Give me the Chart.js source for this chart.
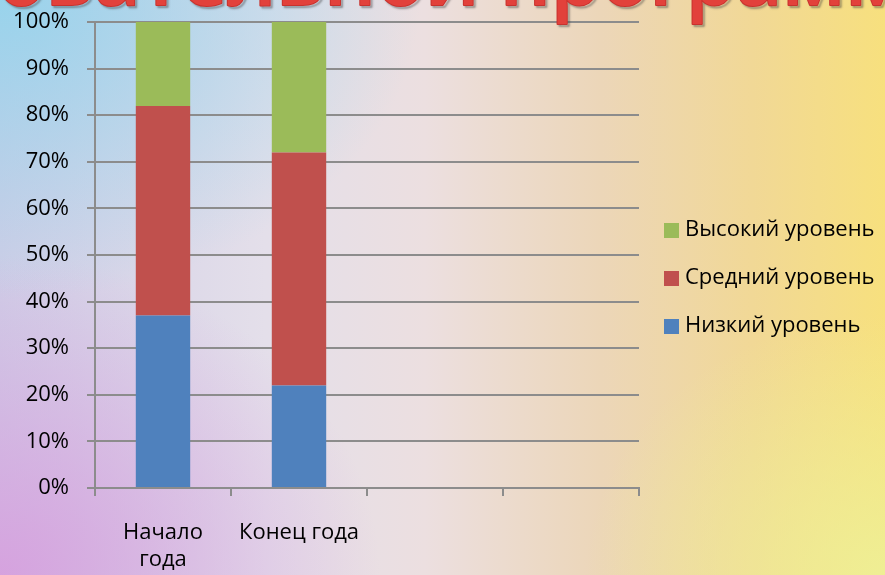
<!DOCTYPE html>
<html><head><meta charset="utf-8">
<script src="https://cdn.jsdelivr.net/npm/chart.js@4.4.0/dist/chart.umd.min.js"></script>
<style>
html,body{margin:0;padding:0;}
#wrap{width:885px;height:575px;position:relative;overflow:hidden;
background:
 radial-gradient(ellipse 420px 300px at 0% 0%, rgba(150,212,236,0.95) 0%, rgba(150,212,236,0) 100%),
 radial-gradient(ellipse 380px 320px at 0% 100%, rgba(214,160,222,0.95) 0%, rgba(214,160,222,0) 100%),
 radial-gradient(ellipse 300px 260px at 100% 100%, rgba(238,240,150,0.9) 0%, rgba(238,240,150,0) 100%),
 linear-gradient(90deg, #cfcde6 0%, #e4dfea 30%, #ecdfe0 48%, #ecd6b8 68%, #f1d896 85%, #f7e07e 100%);}
canvas{display:block}
</style></head><body><div id="wrap"><canvas id="c" width="885" height="575"></canvas></div>
<script>
const categories = [['Начало', 'года'], 'Конец года', '', ''];
const seriesNames = ['Низкий уровень', 'Средний уровень', 'Высокий уровень'];
const lowLevel = [37, 22];
const midLevel = [45, 50];
const highLevel = [18, 28];
const yTickStep = 10;
const titleText = 'образовательной программы';

const FONT = "'Open Sans', 'Noto Sans', sans-serif";
const GRID = '#8c8c8c';

const titlePlugin = {
  id: 'titleArt',
  afterDraw(chart) {
    const ctx = chart.ctx;
    ctx.save();
    ctx.font = '600 80px ' + FONT;
    const lead = ctx.measureText('образовательной ').width;
    const x0 = 500 - lead;
    ctx.textBaseline = 'alphabetic';
    ctx.textAlign = 'left';
    ctx.shadowColor = 'rgba(60,60,60,0.5)';
    ctx.shadowOffsetX = 2; ctx.shadowOffsetY = 2; ctx.shadowBlur = 2;
    ctx.lineJoin = 'round';
    ctx.strokeStyle = '#c8322e'; ctx.lineWidth = 2;
    ctx.strokeText(titleText, x0, 5);
    ctx.shadowColor = 'transparent';
    ctx.fillStyle = '#e2413b';
    ctx.fillText(titleText, x0, 5);
    ctx.restore();
  }
};

const legendPlugin = {
  id: 'sideLegend',
  afterDraw(chart) {
    const ctx = chart.ctx;
    const ds = chart.data.datasets;
    const x = chart.chartArea.right + 25;
    ctx.save();
    ctx.font = '22px ' + FONT;
    ctx.textBaseline = 'middle';
    ctx.textAlign = 'left';
    ds.slice().reverse().forEach((d, i) => {
      const y = 230 + i * 48;
      ctx.fillStyle = d.backgroundColor;
      ctx.fillRect(x, y - 7, 15, 15);
      ctx.fillStyle = '#000';
      ctx.fillText(d.label, x + 21, y);
    });
    ctx.restore();
  }
};

new Chart(document.getElementById('c'), {
  type: 'bar',
  data: {
    labels: categories,
    datasets: [
      { label: seriesNames[0], data: lowLevel, backgroundColor: '#4f81bd' },
      { label: seriesNames[1], data: midLevel, backgroundColor: '#c0504d' },
      { label: seriesNames[2], data: highLevel, backgroundColor: '#9bbb59' }
    ]
  },
  options: {
    responsive: false,
    animation: false,
    devicePixelRatio: 1,
    barPercentage: 0.4,
    categoryPercentage: 1.0,
    layout: { padding: { top: 22, right: 246, left: 0, bottom: 0 } },
    plugins: { legend: { display: false }, tooltip: { enabled: false }, title: { display: false } },
    scales: {
      x: {
        stacked: true,
        grid: { display: true, drawOnChartArea: false, drawTicks: true, tickLength: 8, offset: true, color: GRID, lineWidth: 2 },
        border: { color: GRID, width: 2 },
        ticks: { color: '#000', font: { family: FONT, size: 22 }, padding: 24, maxRotation: 0, autoSkip: false },
        afterFit(s) { s.height = 87; s.paddingLeft = 0; s.paddingRight = 0; }
      },
      y: {
        stacked: true, min: 0, max: 100,
        grid: { color: GRID, lineWidth: 2, tickLength: 8 },
        border: { color: GRID, width: 2 },
        ticks: { stepSize: yTickStep, color: '#000', font: { family: FONT, size: 22 }, padding: 18, callback: v => v + '%' },
        afterFit(s) { s.width = 95; s.paddingTop = 0; s.paddingBottom = 0; }
      }
    }
  },
  plugins: [titlePlugin, legendPlugin]
});
</script></body></html>
